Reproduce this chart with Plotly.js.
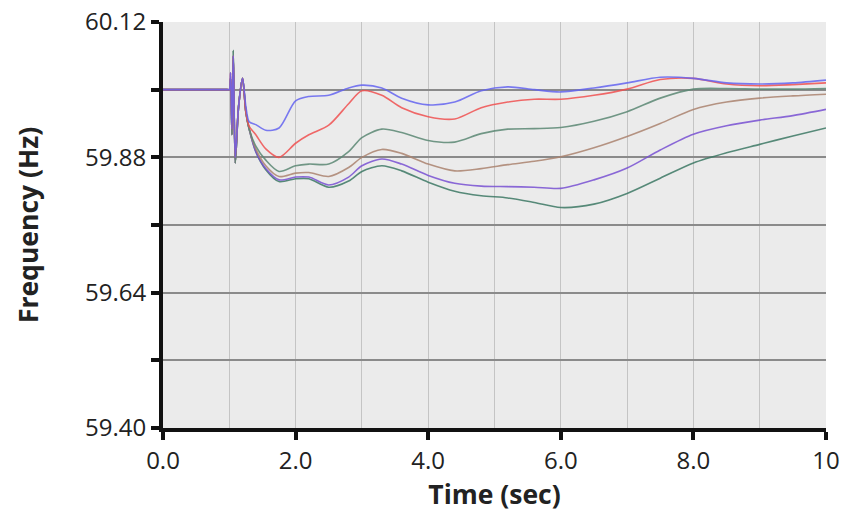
<!DOCTYPE html>
<html>
<head>
<meta charset="utf-8">
<script src="https://cdn.plot.ly/plotly-3.0.1.min.js"></script>
<style>html,body{margin:0;padding:0;background:#fff;}#chart{width:842px;height:517px;}</style>
</head>
<body>
<div id="chart"></div>
<script>
var timeSec = [0, 0.5, 0.97, 1.0, 1.02, 1.04, 1.06, 1.09, 1.14, 1.2, 1.25, 1.3, 1.4, 1.55, 1.75, 2.0, 2.2, 2.5, 2.8, 3.0, 3.3, 3.6, 4.0, 4.4, 4.8, 5.2, 5.6, 6.0, 6.5, 7.0, 7.5, 8.0, 8.5, 9.0, 9.5, 10];

var freqBlue   = [60.00, 60.00, 60.00, 60.00, 60.03, 59.93, 60.06, 59.88, 59.97, 60.02, 59.97, 59.943, 59.938, 59.928, 59.932, 59.980, 59.988, 59.990, 60.003, 60.008, 60.003, 59.985, 59.973, 59.978, 59.998, 60.005, 60.000, 59.996, 60.003, 60.012, 60.022, 60.020, 60.012, 60.010, 60.012, 60.017];
var freqRed    = [60.00, 60.00, 60.00, 60.00, 60.03, 59.93, 60.06, 59.88, 59.97, 60.02, 59.96, 59.935, 59.920, 59.895, 59.880, 59.905, 59.920, 59.937, 59.975, 59.998, 59.990, 59.968, 59.952, 59.948, 59.968, 59.978, 59.983, 59.983, 59.990, 60.001, 60.018, 60.020, 60.010, 60.007, 60.009, 60.012];
var freqGreen  = [60.00, 60.00, 60.00, 60.00, 60.02, 59.92, 60.07, 59.87, 59.97, 60.02, 59.96, 59.930, 59.900, 59.875, 59.855, 59.865, 59.868, 59.868, 59.890, 59.915, 59.930, 59.924, 59.910, 59.907, 59.922, 59.930, 59.931, 59.933, 59.944, 59.961, 59.985, 60.001, 60.002, 60.001, 60.001, 60.002];
var freqBrown  = [60.00, 60.00, 60.00, 60.00, 60.02, 59.92, 60.06, 59.87, 59.97, 60.02, 59.96, 59.930, 59.895, 59.865, 59.846, 59.852, 59.853, 59.846, 59.862, 59.880, 59.894, 59.887, 59.868, 59.856, 59.860, 59.867, 59.873, 59.881, 59.897, 59.917, 59.940, 59.965, 59.978, 59.985, 59.989, 59.992];
var freqPurple = [60.00, 60.00, 60.00, 60.00, 60.02, 59.92, 60.06, 59.87, 59.97, 60.02, 59.96, 59.930, 59.890, 59.860, 59.840, 59.845, 59.845, 59.831, 59.845, 59.865, 59.877, 59.868, 59.848, 59.834, 59.829, 59.828, 59.827, 59.825, 59.840, 59.861, 59.893, 59.921, 59.936, 59.946, 59.954, 59.965];
var freqDkGrn  = [60.00, 60.00, 60.00, 60.00, 60.02, 59.92, 60.07, 59.87, 59.97, 60.02, 59.96, 59.930, 59.890, 59.858, 59.837, 59.842, 59.842, 59.827, 59.838, 59.855, 59.865, 59.856, 59.836, 59.820, 59.812, 59.808, 59.800, 59.791, 59.797, 59.816, 59.843, 59.870, 59.888, 59.903, 59.918, 59.932];

var seriesList = [
  {y: freqDkGrn,  color: 'rgba(60,120,100,0.85)'},
  {y: freqPurple, color: 'rgba(120,80,210,0.85)'},
  {y: freqBrown,  color: 'rgba(170,130,110,0.85)'},
  {y: freqGreen,  color: 'rgba(90,135,115,0.85)'},
  {y: freqRed,    color: 'rgba(240,80,80,0.85)'},
  {y: freqBlue,   color: 'rgba(100,100,240,0.85)'}
];

var yTickVals = [59.40, 59.52, 59.64, 59.76, 59.88, 60.00, 60.12];
var yTickText = ['59.40', '', '59.64', '', '59.88', '', '60.12'];
var xTickVals = [0, 2, 4, 6, 8, 10];
var xTickText = ['0.0', '2.0', '4.0', '6.0', '8.0', '10'];

var traces = seriesList.map(function (s) {
  return {
    x: timeSec, y: s.y, type: 'scatter', mode: 'lines',
    line: {color: s.color, width: 1.6, shape: 'spline', smoothing: 0.8},
    hoverinfo: 'skip'
  };
});

var fontFam = '"Open Sans", sans-serif';
var layout = {
  width: 842, height: 517,
  margin: {l: 163, r: 16, t: 22, b: 89},
  paper_bgcolor: '#ffffff',
  plot_bgcolor: '#ebebeb',
  showlegend: false,
  font: {family: fontFam, size: 25, color: '#222'},
  xaxis: {
    range: [0, 10],
    tickmode: 'array', tickvals: xTickVals, ticktext: xTickText,
    ticks: 'outside', ticklen: 8, tickwidth: 4, tickcolor: '#111',
    showgrid: true, gridcolor: '#c4c4c4', gridwidth: 1,
    minor: {dtick: 1, tick0: 0, showgrid: true, gridcolor: '#c4c4c4', gridwidth: 1, ticks: ''},
    showline: true, linecolor: '#111', linewidth: 4,
    zeroline: false,
    tickfont: {family: fontFam, size: 24, color: '#222'},
    title: {text: '<b>Time (sec)</b>', font: {family: fontFam, size: 26.5, color: '#222'}, standoff: 12}
  },
  yaxis: {
    range: [59.40, 60.12],
    tickmode: 'array', tickvals: yTickVals, ticktext: yTickText,
    ticks: 'outside', ticklen: 8, tickwidth: 4, tickcolor: '#111',
    showgrid: true, gridcolor: '#8a8a8a', gridwidth: 2,
    showline: true, linecolor: '#111', linewidth: 4,
    zeroline: false,
    tickfont: {family: fontFam, size: 24, color: '#222'},
    title: {text: '<b>Frequency (Hz)</b>', font: {family: fontFam, size: 26.5, color: '#222'}, standoff: 40}
  }
};

Plotly.newPlot('chart', traces, layout, {staticPlot: true, displayModeBar: false});
</script>
</body>
</html>
